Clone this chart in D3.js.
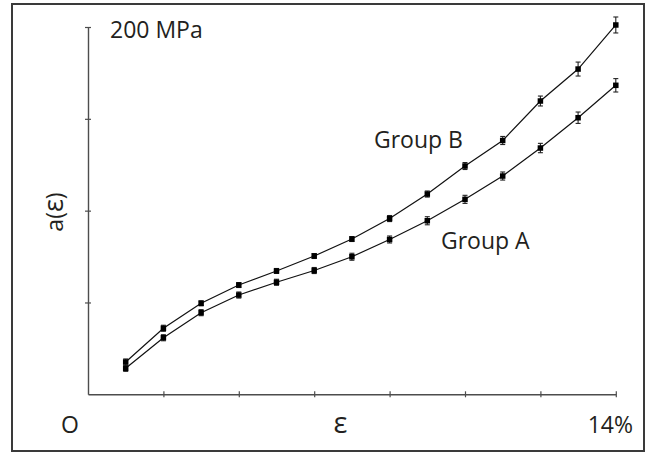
<!DOCTYPE html>
<html>
<head>
<meta charset="utf-8">
<script src="https://cdn.jsdelivr.net/npm/d3@7"></script>
<style>
  html, body { margin: 0; padding: 0; background: #fff; }
  svg { display: block; }
  text { font-family: "Open Sans", "Noto Sans", sans-serif; fill: #231f20; }
</style>
</head>
<body>
<svg id="chart" width="648" height="454"></svg>
<script>
// Strain levels (%) at which a(ε) was measured
const strain = [1, 2, 3, 4, 5, 6, 7, 8, 9, 10, 11, 12, 13, 14];

// a(ε) for each group (arbitrary units) and error-bar half widths
const groupB = [0.352, 0.719, 0.991, 1.190, 1.343, 1.506, 1.691, 1.914, 2.181, 2.486, 2.764, 3.194, 3.542, 4.022];
const groupBErr = [0.033, 0.033, 0.027, 0.027, 0.027, 0.027, 0.027, 0.033, 0.033, 0.038, 0.044, 0.054, 0.076, 0.087];
const groupA = [0.283, 0.616, 0.889, 1.081, 1.220, 1.348, 1.498, 1.686, 1.890, 2.123, 2.377, 2.682, 3.012, 3.365];
const groupAErr = [0.033, 0.033, 0.033, 0.033, 0.033, 0.033, 0.038, 0.038, 0.044, 0.044, 0.044, 0.051, 0.062, 0.073];

// Axis tick positions
const xTicks = [2, 4, 6, 8, 10, 12, 14];
const yTicks = [1, 2, 3, 4];

const series = [
  { name: "Group B", values: groupB, err: groupBErr },
  { name: "Group A", values: groupA, err: groupAErr }
];

const svg = d3.select("#chart");

// Frame around the whole figure
svg.append("rect")
  .attr("x", 12).attr("y", 4)
  .attr("width", 632).attr("height", 447)
  .attr("fill", "none")
  .attr("stroke", "#3a3a3a")
  .attr("stroke-width", 2);

const x = d3.scaleLinear().domain([0, 14]).range([88, 615.8]);
const y = d3.scaleLinear().domain([0, 4]).range([394.3, 27]);

const axisColor = "#4d4d4d";

// X axis: ticks straddle the line
const xAxis = svg.append("g")
  .attr("transform", `translate(0,${y(0)})`)
  .call(d3.axisBottom(x).tickValues(xTicks).tickSize(3).tickSizeOuter(0).tickFormat(""));
xAxis.selectAll("text").remove();
xAxis.select(".domain").attr("stroke", axisColor).attr("stroke-width", 1.4);
xAxis.selectAll(".tick line").attr("stroke", axisColor).attr("stroke-width", 1.2).attr("y1", -3).attr("y2", 3);

// Y axis
const yAxis = svg.append("g")
  .attr("transform", `translate(${x(0)},0)`)
  .call(d3.axisLeft(y).tickValues(yTicks).tickSize(3).tickSizeOuter(0).tickFormat(""));
yAxis.select(".domain").attr("stroke", axisColor).attr("stroke-width", 1.4);
yAxis.selectAll(".tick line").attr("stroke", axisColor).attr("stroke-width", 1.2).attr("x1", -3).attr("x2", 3);

// Lines, error bars and square markers
const line = d3.line()
  .x((d, i) => x(strain[i]))
  .y(d => y(d));

series.forEach(s => {
  const g = svg.append("g");
  g.append("path")
    .datum(s.values)
    .attr("d", line)
    .attr("fill", "none")
    .attr("stroke", "#111")
    .attr("stroke-width", 1.2);

  const pts = s.values.map((v, i) => ({ x: strain[i], v, e: s.err[i] }));

  const bars = g.selectAll(".err").data(pts).join("g").attr("class", "err")
    .attr("stroke", "#222").attr("stroke-width", 1.1);
  bars.append("line")
    .attr("x1", d => x(d.x)).attr("x2", d => x(d.x))
    .attr("y1", d => y(d.v - d.e)).attr("y2", d => y(d.v + d.e));
  bars.append("line")
    .attr("x1", d => x(d.x) - 2.5).attr("x2", d => x(d.x) + 2.5)
    .attr("y1", d => y(d.v - d.e)).attr("y2", d => y(d.v - d.e));
  bars.append("line")
    .attr("x1", d => x(d.x) - 2.5).attr("x2", d => x(d.x) + 2.5)
    .attr("y1", d => y(d.v + d.e)).attr("y2", d => y(d.v + d.e));

  g.selectAll(".mark").data(pts).join("rect").attr("class", "mark")
    .attr("x", d => x(d.x) - 2.75).attr("y", d => y(d.v) - 2.75)
    .attr("width", 5.5).attr("height", 5.5)
    .attr("fill", "#000");
});

// Text labels
const fs = 23;
svg.append("text").attr("x", 110).attr("y", 38.3).attr("font-size", fs).text("200 MPa");
svg.append("text").attr("x", 374).attr("y", 148.3).attr("font-size", fs).text("Group B");
svg.append("text").attr("x", 441).attr("y", 249.3).attr("font-size", fs).text("Group A");
svg.append("text").attr("x", 61).attr("y", 432.5).attr("font-size", fs).text("O");
svg.append("text").attr("x", 340.5).attr("y", 432.5).attr("font-size", 29).attr("text-anchor", "middle").text("ε");
svg.append("text").attr("x", 633).attr("y", 433.3).attr("font-size", fs).attr("text-anchor", "end").text("14%");
const yLabel = svg.append("text")
  .attr("transform", "translate(63,212) rotate(-90)")
  .attr("font-size", fs)
  .attr("text-anchor", "middle");
yLabel.append("tspan").text("a(");
yLabel.append("tspan").attr("font-size", 27).text("ε");
yLabel.append("tspan").text(")");
</script>
</body>
</html>
